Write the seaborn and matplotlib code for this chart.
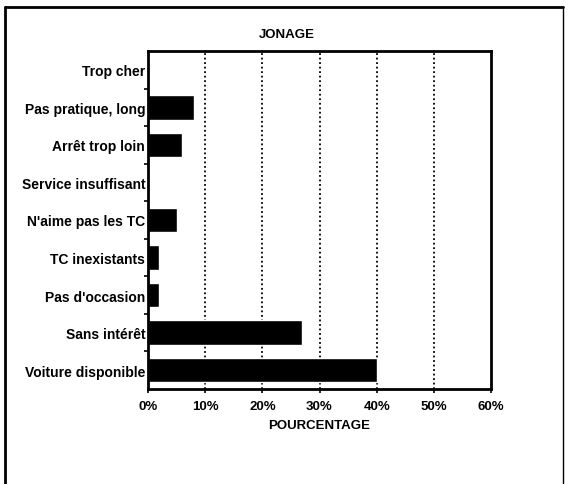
import numpy as np
import pandas as pd
import matplotlib.pyplot as plt
import seaborn as sns
from matplotlib.lines import Line2D
from matplotlib.ticker import FixedLocator

# data (percent)
categories = ['Trop cher', 'Pas pratique, long', 'Arrêt trop loin', 'Service insuffisant',
              "N'aime pas les TC", 'TC inexistants', "Pas d'occasion", 'Sans intérêt',
              'Voiture disponible']
values = [0, 8, 6, 0, 5, 2, 2, 27, 40]
xticks = [0, 10, 20, 30, 40, 50, 60]
xticklabels = ['0%', '10%', '20%', '30%', '40%', '50%', '60%']

df = pd.DataFrame({'raison': categories, 'pct': values})

sns.set_style('white')
plt.rcParams['font.family'] = ['Liberation Sans', 'DejaVu Sans']
plt.rcParams['font.weight'] = 'bold'
plt.rcParams['text.color'] = 'black'
plt.rcParams['axes.labelcolor'] = 'black'
plt.rcParams['xtick.color'] = 'black'
plt.rcParams['ytick.color'] = 'black'

fig = plt.figure(figsize=(5.68, 4.85), dpi=100)
W, H = 568, 485
ax = fig.add_axes([148 / W, 1 - 390 / H, (491 - 148) / W, (390 - 52) / H])

sns.barplot(data=df, x='pct', y='raison', order=categories, color='black',
            saturation=1, width=0.65, ax=ax)

ax.set_xlim(0, 60)
ax.set_ylim(len(categories) - 0.5, -0.5)
ax.set_xticks(xticks)
ax.set_xticklabels(xticklabels, fontsize=9.5, fontweight='bold')
ax.tick_params(axis='x', bottom=True, direction='out', length=3, width=1.2, color='black', pad=5)
ax.tick_params(axis='y', which='major', left=False, length=0, labelsize=10, pad=2)
ax.yaxis.set_minor_locator(FixedLocator(np.arange(0.5, len(categories) - 1, 1)))
ax.tick_params(axis='y', which='minor', left=True, direction='out', length=3, width=1.2, color='black')

for x in xticks[1:-1]:
    ax.axvline(x, color='black', linestyle=(0, (1, 1.5)), linewidth=1.3, zorder=0)

for s in ax.spines.values():
    s.set_visible(True)
    s.set_color('black')
    s.set_linewidth(2)

ax.set_ylabel('')
ax.set_xlabel('POURCENTAGE', fontsize=9.5, fontweight='bold', labelpad=5)
# title sits a bit left of the axes centre in the scan
fig.text(287 / W, 1 - 35 / H, 'JONAGE', fontsize=9.5, fontweight='bold', ha='center', va='center')

# page frame from the scan
fig.add_artist(Line2D([5 / W, 5 / W], [0, 1 - 8 / H], transform=fig.transFigure, color='black', lw=2))
fig.add_artist(Line2D([5 / W, 563 / W], [1 - 8 / H, 1 - 8 / H], transform=fig.transFigure, color='black', lw=2))
fig.add_artist(Line2D([563 / W, 563 / W], [0, 1 - 8 / H], transform=fig.transFigure, color='black', lw=1))

fig.savefig('out.png', dpi=100)
